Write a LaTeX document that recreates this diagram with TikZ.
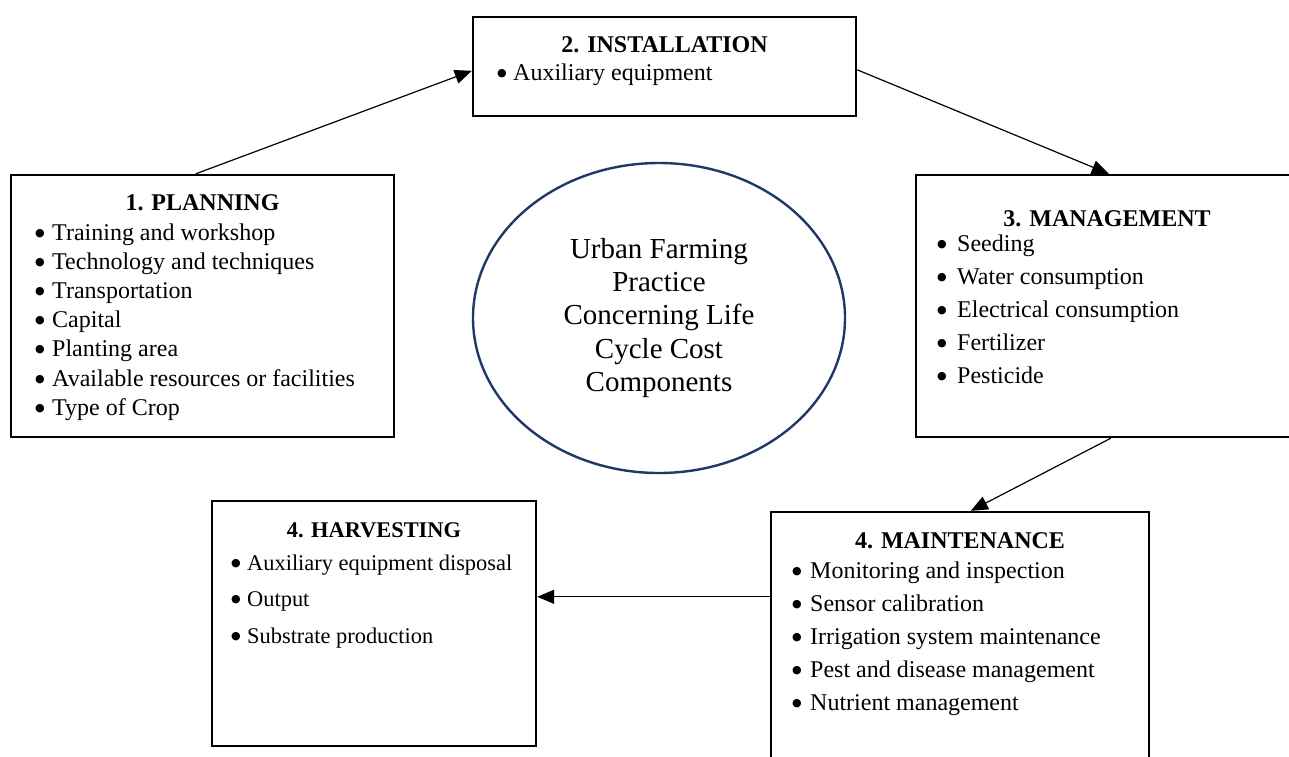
\documentclass[tikz,border=0pt]{standalone}
\usepackage{fontspec}
\setmainfont{Liberation Serif}
\newfontfamily\dotfont{DejaVu Sans}
\usetikzlibrary{arrows.meta,calc,shapes.geometric}
\definecolor{ringblue}{HTML}{1F3864}

% bullet item: round bullet in a fixed-width slot, then the text
\newcommand\bul[2][17pt]{\makebox[#1][l]{\raisebox{4pt}{\dotfont\fontsize{11}{11}\selectfont ●}}#2}

\begin{document}
\begin{tikzpicture}[x=1pt,y=-1pt,
  box/.style={draw=black, line width=2.4pt, rectangle, inner sep=0pt},
  flow/.style={line width=1.2pt, -{Triangle[length=17pt,width=14pt]}},
  head/.style={anchor=base, inner sep=0pt, text height=16pt, text depth=1pt,
               font=\bfseries\fontsize{24}{28}\selectfont},
  item/.style={anchor=base west, inner sep=0pt, text height=16pt, text depth=5pt,
               font=\fontsize{24}{28}\selectfont},
  smallhead/.style={head, font=\bfseries\fontsize{22.4}{26}\selectfont},
  smallitem/.style={item, font=\fontsize{22.4}{26}\selectfont},
]
\useasboundingbox (0,0) rectangle (1289,756);
\clip (0,0) rectangle (1289,756);

% stage boxes
\node[box, minimum width=383pt, minimum height=262pt] (plan)  at (202.5,306) {};
\node[box, minimum width=383pt, minimum height=99pt]  (inst)  at (664.5,66.5) {};
\node[box, minimum width=382pt, minimum height=262pt] (mgmt)  at (1107,306) {};
\node[box, minimum width=324pt, minimum height=245pt] (harv)  at (374,623.5) {};
\node[box, minimum width=378pt, minimum height=258pt] (maint) at (960,641) {};

% central ellipse
\node[draw=ringblue, line width=2.4pt, ellipse, minimum width=372pt,
      minimum height=310pt, inner sep=0pt] (core) at (659,318) {};
\node[align=center, inner sep=0pt, font=\fontsize{29}{33.3}\selectfont] (coretext)
  at (core.center) {Urban Farming\\Practice\\Concerning Life\\Cycle Cost\\Components};

% 1. planning
\node[head] (planhead) at (202.5,210) {1. PLANNING};
\foreach \t [count=\i from 0] in {Training and workshop, Technology and techniques,
    Transportation, Capital, Planting area, Available resources or facilities, Type of Crop}
  \node[item] (plan-\i) at (35,240+29.2*\i) {\bul{\t}};

% 2. installation
\node[head] (insthead) at (664.5,52) {2. INSTALLATION};
\node[item] (inst-0) at (497,80) {\bul[16pt]{Auxiliary equipment}};

% 3. management
\node[head] (mgmthead) at (1107,226) {3. MANAGEMENT};
\foreach \t [count=\i from 0] in {Seeding, Water consumption, Electrical consumption,
    Fertilizer, Pesticide}
  \node[item] (mgmt-\i) at (937,251+33*\i) {\bul[20pt]{\t}};

% 4. maintenance
\node[head] (mainthead) at (960,548) {4. MAINTENANCE};
\foreach \t [count=\i from 0] in {Monitoring and inspection, Sensor calibration,
    Irrigation system maintenance, Pest and disease management, Nutrient management}
  \node[item] (maint-\i) at (792,578+33*\i) {\bul[18pt]{\t}};

% 4. harvesting
\node[smallhead] (harvhead) at (374,537) {4. HARVESTING};
\foreach \t [count=\i from 0] in {Auxiliary equipment disposal, Output, Substrate production}
  \node[smallitem] (harv-\i) at (231,570+36.7*\i) {\bul[16pt]{\t}};

% flow between stages
\draw[flow] ($(plan.north west)+(186,0)$) -- ($(inst.north west)+(0,55)$);
\draw[flow] ($(inst.north east)+(0,54)$) -- ($(mgmt.north west)+(194,0)$);
\draw[flow] ($(mgmt.south west)+(196,0)$) -- ($(maint.north west)+(201,0)$);
\coordinate (mh) at ($(maint.north west)+(0,86)$);
\draw[flow] (mh) -- (mh -| harv.east);
\end{tikzpicture}
\end{document}
